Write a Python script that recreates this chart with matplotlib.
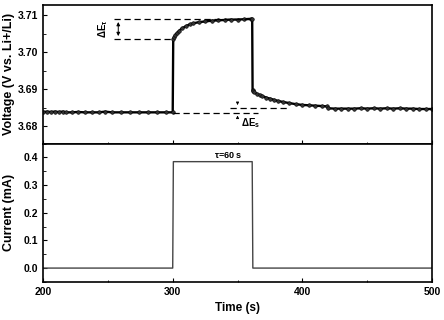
import numpy as np
import matplotlib
matplotlib.use("Agg")
import matplotlib.pyplot as plt
from matplotlib.ticker import MultipleLocator, FormatStrFormatter

plt.rcParams['font.family'] = ['Liberation Sans', 'DejaVu Sans']
plt.rcParams['font.weight'] = 'bold'
plt.rcParams['axes.labelweight'] = 'bold'
plt.rcParams['mathtext.fontset'] = 'custom'
plt.rcParams['mathtext.rm'] = 'Liberation Sans:bold'
plt.rcParams['mathtext.it'] = 'Liberation Sans:bold'

# --- voltage response ---
t_rest1 = [200, 203, 206, 209, 212, 215, 218, 222, 227, 232, 238, 243, 248, 253, 260, 267, 274, 281, 288, 295, 300]
v_rest1 = [3.6839, 3.6840, 3.6839, 3.6840, 3.6839, 3.6840, 3.6838, 3.6838, 3.6839, 3.6838, 3.6838, 3.6838, 3.6840,
           3.6838, 3.6838, 3.6838, 3.6838, 3.6838, 3.6838, 3.6838, 3.6838]

t_pulse = [300.4, 301, 302, 303, 305, 307, 310, 313, 316, 320, 325, 330, 335, 340, 345, 350, 355, 360, 361.3]
v_pulse = [3.7036, 3.7040, 3.7046, 3.7051, 3.7058, 3.7064, 3.7070, 3.7075, 3.7078, 3.7081, 3.7083, 3.7085, 3.7086,
           3.7087, 3.7088, 3.7088, 3.7089, 3.7090, 3.7090]

t_relax = [361.6, 362, 363, 365, 367, 369, 372, 375, 378, 381, 385, 390, 395, 400, 405, 410, 415, 419,
           420, 425, 430, 435, 440, 445, 450, 455, 460, 465, 470, 475, 480, 485, 490, 495, 500]
v_relax = [3.6898, 3.6895, 3.6892, 3.6888, 3.6885, 3.6882, 3.6878, 3.6875, 3.6872, 3.6869, 3.6866, 3.6863, 3.6860,
           3.6858, 3.6857, 3.6856, 3.6855, 3.6854, 3.6849, 3.6848, 3.6848, 3.6848, 3.6848, 3.6849, 3.6848, 3.6849,
           3.6848, 3.6849, 3.6848, 3.6849, 3.6848, 3.6848, 3.6847, 3.6847, 3.6847]

time_v = t_rest1 + t_pulse + t_relax
volt = v_rest1 + v_pulse + v_relax

# --- current pulse ---
time_i = [200, 300, 300.5, 361.3, 361.8, 500]
curr = [0.0, 0.0, 0.3845, 0.3845, 0.0, 0.0]

# annotation levels
E_tau_hi, E_tau_lo = 3.7089, 3.7036
E_s_lo, E_s_hi = 3.6837, 3.6850

dash = (0, (5, 3))

fig, (ax1, ax2) = plt.subplots(2, 1, sharex=True, figsize=(4.44, 3.2), dpi=100)
fig.subplots_adjust(left=0.097, right=0.973, top=0.984, bottom=0.119, hspace=0)

ax1.plot(time_v, volt, color='black', lw=1.7, marker='o', ms=2.6, mfc='#333333', mec='black', mew=0.4)
ax1.set_ylim(3.6754, 3.7127)
ax1.yaxis.set_major_locator(MultipleLocator(0.01))
ax1.yaxis.set_minor_locator(MultipleLocator(0.005))
ax1.yaxis.set_major_formatter(FormatStrFormatter('%.2f'))
ax1.set_ylabel('Voltage (V vs. Li+/Li)', fontsize=9)

# delta E tau
ax1.plot([255, 360], [E_tau_hi, E_tau_hi], ls=dash, color='black', lw=0.9)
ax1.plot([255, 300], [E_tau_lo, E_tau_lo], ls=dash, color='black', lw=0.9)
ax1.annotate('', xy=(258, E_tau_hi), xytext=(258, E_tau_lo),
             arrowprops=dict(arrowstyle='<|-|>', color='black', lw=0.7, mutation_scale=5))
ax1.text(246, (E_tau_hi + E_tau_lo) / 2, r'ΔE$_\tau$', rotation=90, ha='center', va='center', fontsize=7)

# delta E s
ax1.plot([300, 366], [E_s_lo, E_s_lo], ls=dash, color='black', lw=0.9)
ax1.plot([344, 388], [E_s_hi, E_s_hi], ls=dash, color='black', lw=0.9)
ax1.annotate('', xy=(350, E_s_hi), xytext=(350, 3.6872),
             arrowprops=dict(arrowstyle='-|>', color='black', lw=0.6, mutation_scale=4))
ax1.annotate('', xy=(350, E_s_lo), xytext=(350, 3.6815),
             arrowprops=dict(arrowstyle='-|>', color='black', lw=0.6, mutation_scale=4))
ax1.text(352.5, 3.6808, r'ΔE$_s$', ha='left', va='center', fontsize=7)

ax2.plot(time_i, curr, color='#444444', lw=1.0)
ax2.set_ylim(-0.05, 0.45)
ax2.yaxis.set_major_locator(MultipleLocator(0.1))
ax2.yaxis.set_minor_locator(MultipleLocator(0.05))
ax2.yaxis.set_major_formatter(FormatStrFormatter('%.1f'))
ax2.set_ylabel('Current (mA)', fontsize=9)
ax2.text(343, 0.392, r'$\tau$=60 s', ha='center', va='bottom', fontsize=6.5)

ax2.set_xlim(200, 500)
ax2.xaxis.set_major_locator(MultipleLocator(100))
ax2.xaxis.set_minor_locator(MultipleLocator(50))
ax2.set_xlabel('Time (s)', fontsize=8.5)

for ax in (ax1, ax2):
    for s in ax.spines.values():
        s.set_linewidth(1.2)
    ax.tick_params(which='both', direction='in', labelsize=7.5)
    ax.tick_params(which='major', length=3, width=0.8)
    ax.tick_params(which='minor', length=1.8, width=0.6)
    ax.yaxis.set_label_coords(-0.072, 0.5)

fig.savefig('out.png', dpi=100)
